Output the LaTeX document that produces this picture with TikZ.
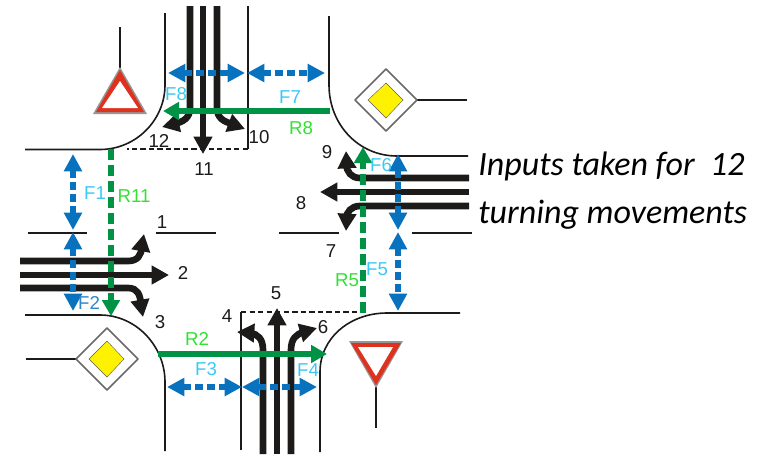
\documentclass[tikz,border=0pt]{standalone}
\usepackage{fontspec}
\setmainfont{Liberation Sans}
\newfontfamily\notefont{Carlito}
\usepackage{tikz}
\usetikzlibrary{arrows.meta}
\definecolor{laneblack}{RGB}{29, 27, 25}
\definecolor{myblue}{RGB}{8, 114, 190}
\definecolor{mygreen}{RGB}{0, 146, 69}
\definecolor{labelcyan}{RGB}{60, 200, 245}
\definecolor{labelgreen}{RGB}{50, 225, 50}
\definecolor{signred}{RGB}{222, 50, 30}
\definecolor{signgray}{RGB}{150, 150, 150}
\tikzset{
  curb/.style = {draw = laneblack, line width = 1.2pt},
  lane/.style = {draw = laneblack, line width = 5pt},
  lanearrow/.style = {lane, -{Triangle[length = 13pt, width = 13.5pt]}},
  stopline/.style = {draw = laneblack, line width = 1.6pt, dash pattern = on 4pt off 2.4pt},
  greenarrow/.style = {draw = mygreen, line width = 5pt, -{Triangle[length = 12pt, width = 13pt]}},
  greendash/.style = {greenarrow, dash pattern = on 8pt off 4pt},
  bluearrow/.style = {draw = myblue, line width = 4.5pt, dash pattern = on 6pt off 3pt, {Triangle[length = 13pt, width = 13pt]}-{Triangle[length = 13pt, width = 13pt]}},
  numlabel/.style = {text = laneblack, font = \fontsize{14}{16}\selectfont, inner sep = 0pt},
  flabel/.style = {text = labelcyan, font = \fontsize{14}{16}\selectfont, inner sep = 0pt},
  rlabel/.style = {text = labelgreen, font = \fontsize{14}{16}\selectfont, inner sep = 0pt},
  signedge/.style = {draw = signgray!70!black, line width = 1.2pt, fill = white, line join = round},
  signfill/.style = {draw = signgray!60!black, line width = 0.3pt, fill = yellow}
}
\begin{document}
\begin{tikzpicture}[x = 0.75pt, y = -0.75pt]
\useasboundingbox (0,0) rectangle (767,454);
% curbs
\draw[curb] (25,149.5) -- (100,149.5) .. controls (136,149.5) and (165,120) .. (165,85) -- (165,13);
\draw[curb] (329,16) -- (329,85) .. controls (329,124) and (358,156) .. (397,156) -- (468,156);
\draw[curb] (25,315) -- (100,315) .. controls (136,315) and (165,346) .. (165,382) -- (165,451);
\draw[curb] (320,452) -- (320,372) .. controls (320,338) and (350,313) .. (387,313) -- (460,313);
\draw[curb] (248,6) -- (248,149);
\draw[curb] (241,450) -- (241,312);
\draw[stopline] (248,149) -- (127,149);
\draw[stopline] (241,312) -- (368,312);
\draw[curb] (28,233) -- (87,233);
\draw[curb] (156,233) -- (216,233);
\draw[curb] (279,233) -- (339,233);
\draw[curb] (412,233) -- (472,233);
% lanes
\draw[lane] (190,6) -- (190,108) .. controls (190,118) and (183,122) .. (174,124);
\draw[lanearrow] (178,123) -- (162,127);
\draw[lanearrow] (203,6) -- (203,154);
\draw[lane] (217,6) -- (217,108) .. controls (217,118) and (224,122) .. (233,124);
\draw[lanearrow] (229,123) -- (245,129);
\draw[lane] (20,261) -- (128,261) .. controls (138,261) and (141,255) .. (142,247);
\draw[lanearrow] (141,250) -- (144,234);
\draw[lanearrow] (20,275) -- (169,275);
\draw[lane] (20,288) -- (128,288) .. controls (138,288) and (140,295) .. (141,304);
\draw[lanearrow] (140,300) -- (143,317);
\draw[lane] (469,178) -- (360,178) .. controls (351,178) and (347,172) .. (346,164);
\draw[lanearrow] (347,168) -- (346,151);
\draw[lanearrow] (469,192) -- (320,192);
\draw[lane] (469,206) -- (360,206) .. controls (351,206) and (347,212) .. (346,218);
\draw[lanearrow] (347,214) -- (346,231);
\draw[lane] (263,454) -- (263,350) .. controls (263,339) and (258,334) .. (250,333);
\draw[lanearrow] (254,333) -- (237,332);
\draw[lanearrow] (277,454) -- (277,308);
\draw[lane] (291,454) -- (291,350) .. controls (291,339) and (296,334) .. (304,332);
\draw[lanearrow] (300,333) -- (317,328);
% conflict paths
\draw[greenarrow] (330,111) -- (163,111);
\draw[greenarrow] (158,354) -- (327,354);
\draw[greendash] (111,149) -- (111,316);
\draw[greendash] (363,313) -- (363,147);
\draw[bluearrow] (168,73) -- (245,73);
\draw[bluearrow] (247,73) -- (325,73);
\draw[bluearrow] (73,154) -- (73,230);
\draw[bluearrow] (73,232) -- (73,311);
\draw[bluearrow] (167,387) -- (242,387);
\draw[bluearrow] (242,387) -- (317,387);
\draw[bluearrow] (398,154) -- (398,230);
\draw[bluearrow] (398,232) -- (398,311);
% signs
\draw[curb] (120,27) -- (120,68);
\fill[signgray] (120,67) -- (147,114) -- (93,114) -- cycle;
\fill[signred] (120,70) -- (144,112) -- (96,112) -- cycle;
\fill[white] (120,81) -- (138,108) -- (102,108) -- cycle;
\draw[curb] (376,387) -- (376,428);
\fill[signgray] (376,388) -- (403,341) -- (349,341) -- cycle;
\fill[signred] (376,385) -- (401,343) -- (351,343) -- cycle;
\fill[white] (376,376) -- (393,347) -- (358,347) -- cycle;
\draw[curb] (417,100) -- (467,100);
\draw[signedge] (386,69) -- (417,100) -- (386,131) -- (355,100) -- cycle;
\draw[signfill] (386,83) -- (403,100) -- (386,118) -- (368,100) -- cycle;
\draw[curb] (26,359) -- (76,359);
\draw[signedge] (107,328) -- (138,359) -- (107,390) -- (76,359) -- cycle;
\draw[signfill] (107,341) -- (124,359) -- (107,377) -- (89,359) -- cycle;
% labels
\node[numlabel] (n1) at (162,222) {1};
\node[numlabel] (n2) at (183,273) {2};
\node[numlabel] (n3) at (160,322) {3};
\node[numlabel] (n4) at (227,316) {4};
\node[numlabel] (n5) at (276,293) {5};
\node[numlabel] (n6) at (323,327) {6};
\node[numlabel] (n7) at (331,251) {7};
\node[numlabel] (n8) at (301,203) {8};
\node[numlabel] (n9) at (327,152) {9};
\node[numlabel] (n10) at (259,137) {10};
\node[numlabel] (n11) at (204,169) {11};
\node[numlabel] (n12) at (159,141) {12};
\node[flabel] (f1) at (95,193) {F1};
\node[flabel, text = myblue!85!white] (f2) at (89,303) {F2};
\node[flabel] (f3) at (206,369) {F3};
\node[flabel] (f4) at (308,370) {F4};
\node[flabel] (f5) at (377,269) {F5};
\node[flabel] (f6) at (381,165) {F6};
\node[flabel] (f7) at (290,97) {F7};
\node[flabel] (f8) at (176,94) {F8};
\node[rlabel] (r11) at (134,196) {R11};
\node[rlabel] (r8) at (301,128) {R8};
\node[rlabel] (r5) at (347,280) {R5};
\node[rlabel] (r2) at (197,339) {R2};
\node[anchor = base west, inner sep = 0pt, font = \notefont\itshape\fontsize{25.5}{30}\selectfont] (note1) at (478,175) {Inputs taken for\ \ 12};
\node[anchor = base west, inner sep = 0pt, font = \notefont\itshape\fontsize{25.5}{30}\selectfont] (note2) at (478,223) {turning movements};
\end{tikzpicture}
\end{document}
